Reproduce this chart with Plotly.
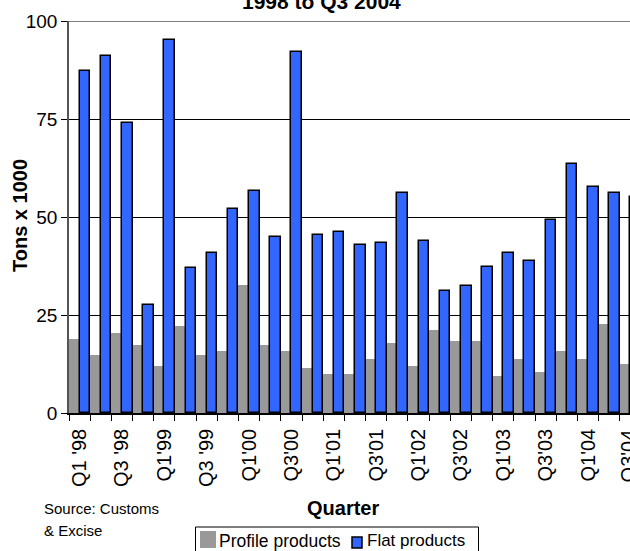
import plotly.graph_objects as go

quarters = ["Q1'98", "Q2'98", "Q3'98", "Q4'98", "Q1'99", "Q2'99", "Q3'99", "Q4'99",
            "Q1'00", "Q2'00", "Q3'00", "Q4'00", "Q1'01", "Q2'01", "Q3'01", "Q4'01",
            "Q1'02", "Q2'02", "Q3'02", "Q4'02", "Q1'03", "Q2'03", "Q3'03", "Q4'03",
            "Q1'04", "Q2'04", "Q3'04"]
profile = [18.8, 14.9, 20.4, 17.4, 12.0, 22.3, 14.9, 15.9, 32.7, 17.4, 15.9, 11.5, 10.0, 10.0,
           13.8, 17.8, 11.9, 21.2, 18.3, 18.3, 9.5, 13.8, 10.4, 15.9, 13.8, 22.7, 12.5]
flat = [87.2, 91.0, 73.9, 27.5, 95.1, 36.9, 40.9, 52.1, 56.6, 44.8, 92.1, 45.3, 46.3, 42.9,
        43.3, 56.2, 43.8, 31.0, 32.4, 37.3, 40.9, 38.9, 49.2, 63.5, 57.6, 56.2, 55.0]
tick_labels = ["Q1 '98", "Q3 '98", "Q1'99", "Q3 '99", "Q1'00", "Q3'00", "Q1'01", "Q3'01",
               "Q1'02", "Q3'02", "Q1'03", "Q3'03", "Q1'04", "Q3'04"]
y_ticks = [0, 25, 50, 75, 100]
series_names = ["Profile products", "Flat products"]
series_colors = ["#999999", "#3366FF"]

FONT = "Liberation Sans, Arial, sans-serif"
W, H = 630, 551
L, R, T, B = 69, 0, 21, 138
PW = W - L - R
PH = H - T - B


def px2x(px):
    return (px - L) / PW


def py2y(py):
    return (H - B - py) / PH


idx = list(range(len(quarters)))
tick_idx = idx[::2]

fig = go.Figure()
fig.add_trace(go.Bar(x=idx, y=profile, name=series_names[0],
                     marker=dict(color=series_colors[0], line=dict(width=0)),
                     customdata=quarters, hovertemplate="%{customdata}: %{y}<extra></extra>"))
fig.add_trace(go.Bar(x=idx, y=flat, name=series_names[1],
                     marker=dict(color=series_colors[1], line=dict(color="black", width=1.5)),
                     customdata=quarters, hovertemplate="%{customdata}: %{y}<extra></extra>"))

annotations = [
    dict(text="<b>1998 to Q3 2004</b>", xref="paper", yref="paper",
         x=px2x(321), y=py2y(1.5), xanchor="center", yanchor="middle", showarrow=False,
         font=dict(size=21, family=FONT, color="black")),
    dict(text="<b>Tons x 1000</b>", xref="paper", yref="paper",
         x=px2x(20), y=py2y(216), xanchor="center", yanchor="middle", showarrow=False,
         textangle=-90, font=dict(size=20, family=FONT, color="black")),
    dict(text="<b>Quarter</b>", xref="paper", yref="paper",
         x=px2x(343), y=py2y(508), xanchor="center", yanchor="middle", showarrow=False,
         font=dict(size=20, family=FONT, color="black")),
    dict(text="Source: Customs", xref="paper", yref="paper",
         x=px2x(42), y=py2y(508.5), xanchor="left", yanchor="middle", showarrow=False,
         font=dict(size=15, family=FONT, color="black")),
    dict(text="& Excise", xref="paper", yref="paper",
         x=px2x(42), y=py2y(530), xanchor="left", yanchor="middle", showarrow=False,
         font=dict(size=15, family=FONT, color="black")),
    # last tick label, partly beyond the right edge as in the reference
    dict(text=tick_labels[-1], xref="x", yref="paper",
         x=tick_idx[-1] - 0.12, y=py2y(427), xanchor="center", yanchor="top", showarrow=False,
         textangle=-90, font=dict(size=20, family=FONT, color="black")),
    # legend texts
    dict(text=series_names[0], xref="paper", yref="paper",
         x=px2x(217), y=py2y(540.5), xanchor="left", yanchor="middle", showarrow=False,
         font=dict(size=17.5, family=FONT, color="black")),
    dict(text=series_names[1], xref="paper", yref="paper",
         x=px2x(365), y=py2y(540.5), xanchor="left", yanchor="middle", showarrow=False,
         font=dict(size=17, family=FONT, color="black")),
]

shapes = [
    dict(type="line", xref="paper", yref="y", x0=0, x1=1, y0=100, y1=100,
         line=dict(color="#808080", width=2)),
    # legend box and swatches
    dict(type="rect", xref="paper", yref="paper", x0=px2x(195.5), x1=px2x(478.5),
         y0=py2y(527), y1=py2y(556), line=dict(color="black", width=1), fillcolor="white",
         layer="below"),
    dict(type="rect", xref="paper", yref="paper", x0=px2x(200), x1=px2x(216),
         y0=py2y(531), y1=py2y(548), line=dict(width=0), fillcolor=series_colors[0]),
    dict(type="rect", xref="paper", yref="paper", x0=px2x(352), x1=px2x(362),
         y0=py2y(537), y1=py2y(548), line=dict(color="black", width=1.5),
         fillcolor=series_colors[1]),
]

fig.update_layout(
    width=W, height=H,
    margin=dict(l=L, r=R, t=T, b=B, pad=0),
    paper_bgcolor="white", plot_bgcolor="white",
    barmode="group", bargap=0, bargroupgap=0,
    font=dict(family=FONT, color="black"),
    showlegend=False,
    xaxis=dict(
        range=[-0.5, 25.98],
        tickmode="array", tickvals=tick_idx, ticktext=tick_labels,
        tickangle=-90, tickfont=dict(size=20, family=FONT, color="black"),
        ticks="outside", ticklen=6, tickcolor="rgba(0,0,0,0)",
        showline=True, linecolor="black", linewidth=1.5,
        showgrid=False, zeroline=False,
        minor=dict(ticks="outside", tick0=0.5, dtick=1, ticklen=6, tickcolor="black",
                   tickwidth=1, showgrid=False),
        fixedrange=True,
    ),
    yaxis=dict(
        range=[0, 100], tickmode="array", tickvals=y_ticks,
        ticks="outside", ticklen=6, tickcolor="black", tickwidth=1,
        tickfont=dict(size=19, family=FONT, color="black"),
        showline=True, linecolor="#555555", linewidth=1.5,
        showgrid=True, gridcolor="black", gridwidth=1, zeroline=False,
        fixedrange=True,
    ),
    annotations=annotations,
    shapes=shapes,
)

fig.write_html("out.html", config={"displayModeBar": False},
               post_script="document.body.style.margin='0';document.body.style.overflow='hidden';")
